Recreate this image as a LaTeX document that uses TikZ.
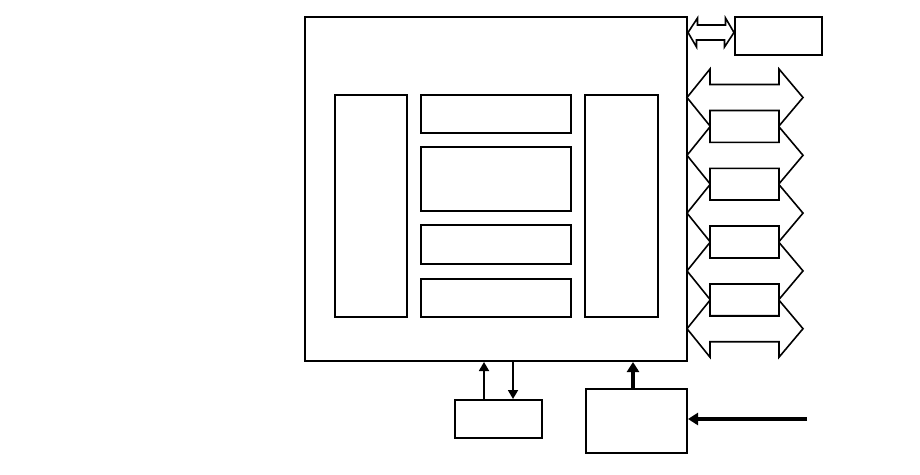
\documentclass[tikz,border=0pt]{standalone}
\usetikzlibrary{arrows.meta}
\begin{document}
\begin{tikzpicture}[
    x=1pt, y=-1pt,
    blk/.style={rectangle, draw=black, line width=2pt, inner sep=0pt},
    chip/.style={blk, minimum width=382pt, minimum height=344pt},
    col/.style={blk, minimum width=72pt, minimum height=222pt},
    unit/.style={blk, minimum width=150pt},
    port/.style={blk, line width=1.6pt, minimum width=69pt, minimum height=31.8pt},
    bus/.style={draw=black, fill=white, line width=1.6pt, line join=miter},
    link/.style={-{Triangle[length=9pt, width=10pt]}, line width=1.8pt},
    feed/.style={-{Triangle[length=10pt, width=12pt]}, line width=3.4pt}
]
  \useasboundingbox (0,0) rectangle (920,474);
  % Chip and its blocks
  \node[chip] (soc) at (496,189) {};
  \node[col] (lcol) at (371,206) {};
  \node[col, minimum width=73pt] (rcol) at (621.5,206) {};
  \node[unit, minimum height=38pt] (u1) at (496,114) {};
  \node[unit, minimum height=64pt] (u2) at (496,179) {};
  \node[unit, minimum height=39pt] (u3) at (496,244.5) {};
  \node[unit, minimum height=38pt] (u4) at (496,298) {};
  % Outside blocks
  \node[blk, minimum width=87pt, minimum height=38pt] (ext) at (778.5,36) {};
  \node[blk, minimum width=87pt, minimum height=38pt] (mem) at (498.5,419) {};
  \node[blk, minimum width=101pt, minimum height=64pt] (clk) at (636.5,421) {};
  \coordinate (clkin) at (807,419);

  % Small bus to ext
  \draw[bus] (soc.east |- ext.west) ++(0,-3.5) coordinate (t0)
    -- ++(9.5,-14.5) -- ++(0,7) -- (725.5,25) -- ++(0,-7) -- (ext.west |- t0)
    -- ++(-9.5,14.5) -- ++(0,-7) -- (696.5,40) -- ++(0,7) -- cycle;

  % Wide buses
  \foreach \i in {0,...,4}{
    \pgfmathsetmacro{\c}{97.5+57.8*\i}
    \draw[bus] (687,\c) -- (710,\c-28.5) -- (710,\c-13) -- (779,\c-13)
      -- (779,\c-28.5) -- (803,\c) -- (779,\c+28.5) -- (779,\c+13)
      -- (710,\c+13) -- (710,\c+28.5) -- cycle;
  }
  \foreach \i in {1,...,4}{
    \node[port] (p\i) at (744.5,{97.5+57.8*(\i-0.5)}) {};
  }

  % Connectors
  \draw[link] ([xshift=-14.5pt]mem.north) -- ([xshift=-14.5pt]mem.north |- soc.south);
  \draw[link] ([xshift=14.5pt]mem.north |- soc.south) -- ([xshift=14.5pt]mem.north);
  \draw[feed] ([xshift=-3.5pt]clk.north) -- ([xshift=-3.5pt]clk.north |- soc.south);
  \draw[feed] (clkin) -- (clkin -| clk.east);
\end{tikzpicture}
\end{document}
